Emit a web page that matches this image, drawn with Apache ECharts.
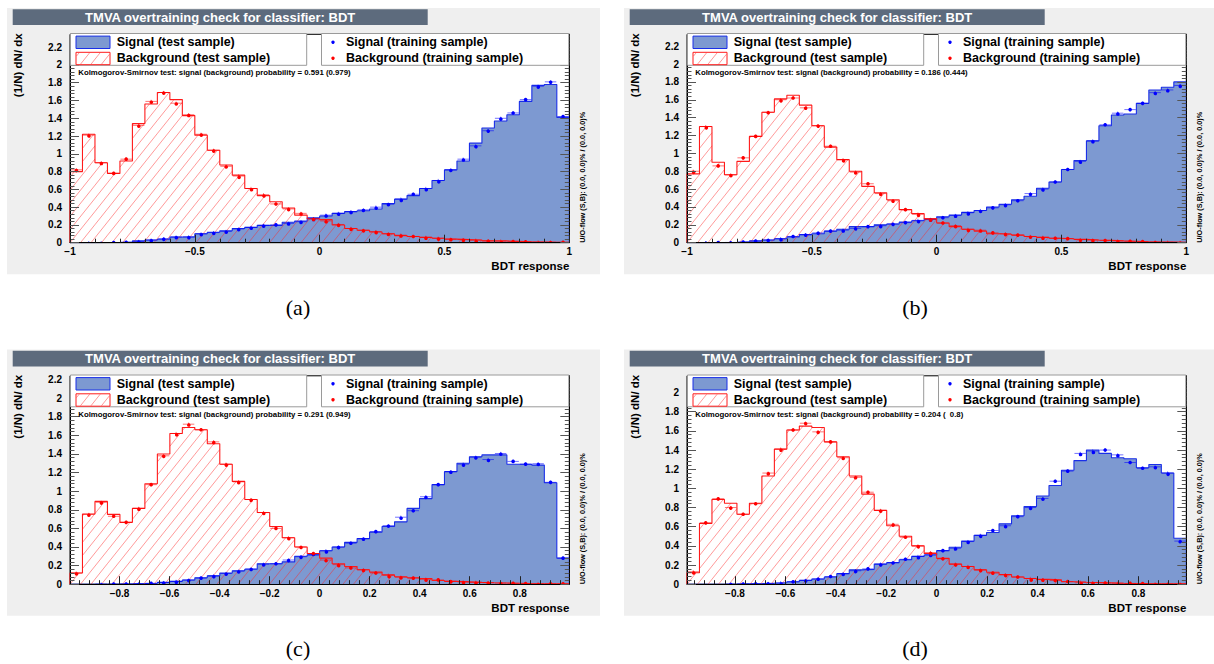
<!DOCTYPE html>
<html>
<head>
<meta charset="utf-8">
<script src="https://cdn.jsdelivr.net/npm/echarts@6/dist/echarts.min.js"></script>
<style>
html, body { margin: 0; padding: 0; background: #ffffff; }
#chart { width: 1214px; height: 664px; }
</style>
</head>
<body>
<div id="chart"></div>
<script>
// ---- BDT response, 40 bins per panel, normalised as (1/N) dN/dx ----
const sigTestA  = [0, 0.001, 0.002, 0.003, 0.006, 0.02, 0.03, 0.038, 0.064, 0.066, 0.10, 0.117, 0.135, 0.16, 0.173, 0.195, 0.195, 0.23, 0.244, 0.28, 0.30, 0.33, 0.35, 0.36, 0.38, 0.44, 0.49, 0.53, 0.61, 0.70, 0.82, 0.92, 1.12, 1.29, 1.37, 1.44, 1.59, 1.77, 1.78, 1.41];
const sigTrainA = [0, 0.001, 0.001, 0.002, 0.005, 0.015, 0.03, 0.045, 0.064, 0.066, 0.10, 0.114, 0.127, 0.154, 0.172, 0.195, 0.20, 0.217, 0.236, 0.27, 0.31, 0.33, 0.35, 0.37, 0.40, 0.435, 0.49, 0.545, 0.61, 0.70, 0.82, 0.94, 1.09, 1.26, 1.40, 1.46, 1.61, 1.76, 1.81, 1.42];
const bkgTestA  = [0.80, 1.22, 0.90, 0.78, 0.92, 1.34, 1.56, 1.69, 1.61, 1.43, 1.21, 1.04, 0.875, 0.76, 0.61, 0.53, 0.46, 0.39, 0.31, 0.27, 0.26, 0.20, 0.16, 0.14, 0.12, 0.10, 0.08, 0.07, 0.06, 0.05, 0.04, 0.035, 0.03, 0.02, 0.02, 0.015, 0.01, 0.008, 0.005, 0.004];
const bkgTrainA = [0.82, 1.21, 0.90, 0.78, 0.94, 1.32, 1.59, 1.69, 1.57, 1.44, 1.22, 1.04, 0.86, 0.75, 0.61, 0.54, 0.436, 0.38, 0.33, 0.27, 0.245, 0.205, 0.16, 0.14, 0.125, 0.10, 0.085, 0.07, 0.06, 0.05, 0.04, 0.035, 0.028, 0.022, 0.018, 0.014, 0.01, 0.008, 0.006, 0.004];

const sigTestB  = [0, 0, 0.001, 0.003, 0.01, 0.02, 0.03, 0.045, 0.065, 0.09, 0.10, 0.13, 0.15, 0.18, 0.18, 0.20, 0.21, 0.23, 0.245, 0.27, 0.29, 0.31, 0.34, 0.36, 0.40, 0.43, 0.48, 0.52, 0.61, 0.68, 0.82, 0.92, 1.14, 1.31, 1.43, 1.44, 1.56, 1.71, 1.74, 1.80];
const sigTrainB = [0, 0.001, 0.001, 0.003, 0.008, 0.018, 0.03, 0.045, 0.07, 0.09, 0.11, 0.13, 0.14, 0.16, 0.18, 0.19, 0.21, 0.225, 0.25, 0.26, 0.28, 0.305, 0.335, 0.36, 0.39, 0.425, 0.47, 0.55, 0.60, 0.68, 0.82, 0.91, 1.14, 1.32, 1.45, 1.49, 1.56, 1.68, 1.71, 1.76];
const bkgTestB  = [0.77, 1.30, 0.90, 0.76, 0.91, 1.19, 1.46, 1.61, 1.65, 1.54, 1.31, 1.07, 0.93, 0.80, 0.63, 0.56, 0.48, 0.37, 0.325, 0.27, 0.22, 0.18, 0.15, 0.13, 0.10, 0.095, 0.085, 0.07, 0.06, 0.05, 0.045, 0.037, 0.03, 0.026, 0.02, 0.016, 0.01, 0.008, 0.006, 0.004];
const bkgTrainB = [0.80, 1.30, 0.86, 0.76, 0.95, 1.19, 1.46, 1.60, 1.62, 1.51, 1.31, 1.08, 0.93, 0.79, 0.66, 0.55, 0.47, 0.37, 0.32, 0.26, 0.22, 0.19, 0.15, 0.14, 0.11, 0.10, 0.085, 0.07, 0.06, 0.05, 0.045, 0.035, 0.03, 0.025, 0.02, 0.015, 0.012, 0.009, 0.006, 0.004];

const sigTestC  = [0, 0, 0, 0.001, 0.003, 0.006, 0.01, 0.02, 0.03, 0.045, 0.07, 0.09, 0.12, 0.145, 0.16, 0.22, 0.22, 0.24, 0.30, 0.315, 0.36, 0.40, 0.45, 0.49, 0.56, 0.62, 0.67, 0.815, 0.92, 1.07, 1.21, 1.30, 1.37, 1.39, 1.39, 1.29, 1.29, 1.28, 1.09, 0.28];
const sigTrainC = [0, 0, 0.001, 0.001, 0.002, 0.005, 0.01, 0.018, 0.03, 0.045, 0.065, 0.09, 0.115, 0.14, 0.165, 0.215, 0.22, 0.26, 0.295, 0.32, 0.36, 0.40, 0.44, 0.49, 0.565, 0.63, 0.72, 0.79, 0.94, 1.07, 1.21, 1.29, 1.365, 1.34, 1.405, 1.32, 1.29, 1.295, 1.095, 0.28];
const bkgTestC  = [0.12, 0.755, 0.89, 0.75, 0.665, 0.815, 1.08, 1.40, 1.62, 1.685, 1.66, 1.51, 1.29, 1.105, 0.91, 0.77, 0.62, 0.50, 0.40, 0.33, 0.28, 0.22, 0.19, 0.155, 0.13, 0.10, 0.08, 0.07, 0.06, 0.04, 0.03, 0.025, 0.02, 0.016, 0.013, 0.01, 0.007, 0.005, 0.004, 0.003];
const bkgTrainC = [0.12, 0.75, 0.88, 0.73, 0.665, 0.815, 1.07, 1.38, 1.62, 1.72, 1.66, 1.53, 1.29, 1.10, 0.91, 0.77, 0.60, 0.50, 0.40, 0.33, 0.26, 0.21, 0.175, 0.155, 0.12, 0.097, 0.075, 0.065, 0.054, 0.046, 0.032, 0.025, 0.02, 0.016, 0.012, 0.009, 0.007, 0.005, 0.004, 0.003];

const sigTestD  = [0, 0, 0, 0.001, 0.003, 0.005, 0.01, 0.015, 0.025, 0.04, 0.055, 0.075, 0.11, 0.15, 0.155, 0.21, 0.225, 0.255, 0.29, 0.305, 0.35, 0.385, 0.45, 0.51, 0.54, 0.63, 0.715, 0.81, 0.92, 1.03, 1.19, 1.29, 1.40, 1.365, 1.32, 1.31, 1.215, 1.25, 1.16, 0.48];
const sigTrainD = [0, 0, 0, 0.001, 0.002, 0.004, 0.008, 0.014, 0.025, 0.04, 0.055, 0.08, 0.11, 0.14, 0.16, 0.21, 0.225, 0.26, 0.29, 0.31, 0.35, 0.375, 0.445, 0.51, 0.56, 0.61, 0.705, 0.80, 0.895, 1.075, 1.18, 1.365, 1.39, 1.40, 1.35, 1.27, 1.21, 1.225, 1.16, 0.45];
const bkgTestD  = [0.12, 0.635, 0.885, 0.845, 0.73, 0.845, 1.13, 1.41, 1.61, 1.65, 1.635, 1.485, 1.33, 1.13, 0.94, 0.77, 0.61, 0.50, 0.40, 0.32, 0.27, 0.21, 0.185, 0.15, 0.125, 0.10, 0.075, 0.06, 0.05, 0.045, 0.025, 0.02, 0.017, 0.014, 0.01, 0.008, 0.006, 0.005, 0.004, 0.003];
const bkgTrainD = [0.13, 0.64, 0.89, 0.80, 0.73, 0.84, 1.16, 1.41, 1.61, 1.68, 1.59, 1.485, 1.32, 1.115, 0.96, 0.77, 0.625, 0.49, 0.40, 0.33, 0.265, 0.21, 0.185, 0.15, 0.115, 0.10, 0.075, 0.06, 0.048, 0.038, 0.028, 0.022, 0.017, 0.013, 0.01, 0.008, 0.006, 0.004, 0.003, 0.003];

// histogram ranges and axis extents
const xRangeA = [-1, 1];
const xRangeB = [-1, 1];
const xRangeC = [-0.998, 0.998];
const xRangeD = [-0.99, 0.99];
const yMaxes = [2.345, 2.333, 2.24, 2.175];

// tick labels
const xTicksFull = [-1, -0.5, 0, 0.5, 1];
const xTicksFine = [-0.8, -0.6, -0.4, -0.2, 0, 0.2, 0.4, 0.6, 0.8];
const yTicks = [0, 0.2, 0.4, 0.6, 0.8, 1, 1.2, 1.4, 1.6, 1.8, 2, 2.2];

// Kolmogorov-Smirnov probabilities: signal, background
const ksSignal = [0.591, 0.186, 0.291, 0.204];
const ksBackground = [0.979, 0.444, 0.949, 0.8];
const overflowText = 'U/O-flow (S,B): (0.0, 0.0)% / (0.0, 0.0)%';
const captions = ['(a)', '(b)', '(c)', '(d)'];
const titleText = 'TMVA overtraining check for classifier: BDT';

// ---- styling / layout ----
const FONT = '"Liberation Sans", Arial, Helvetica, sans-serif';
const SERIF = '"Liberation Serif", "DejaVu Serif", serif';
const SIG_FILL = '#7d99d1', SIG_LINE = '#1a2fe8', SIG_MARK = '#0000ff';
const BKG_LINE = '#ff1a1a';
const HATCH_COLOR = 'rgba(255,40,40,0.6)';
const HATCH_SP = 10.5;   // horizontal spacing of hatch lines, px
const HATCH_R = 0.8;     // horizontal run per px of rise
const OFFSETS = [[0, 0], [617, 0], [0, 341.5], [617, 341.5]];
const FR = { l: 70, t: 34.3, w: 499.3, h: 208.4 };

const panels = [
  { sigTest: sigTestA, sigTrain: sigTrainA, bkgTest: bkgTestA, bkgTrain: bkgTrainA, range: xRangeA, xticks: xTicksFull, xminor: 0.1 },
  { sigTest: sigTestB, sigTrain: sigTrainB, bkgTest: bkgTestB, bkgTrain: bkgTrainB, range: xRangeB, xticks: xTicksFull, xminor: 0.1 },
  { sigTest: sigTestC, sigTrain: sigTrainC, bkgTest: bkgTestC, bkgTrain: bkgTrainC, range: xRangeC, xticks: xTicksFine, xminor: 0.04 },
  { sigTest: sigTestD, sigTrain: sigTrainD, bkgTest: bkgTestD, bkgTrain: bkgTrainD, range: xRangeD, xticks: xTicksFine, xminor: 0.04 }
];

function fmtTick(v) {
  return String(+(+v).toFixed(4)).replace('-', '\u2212');
}
function fmtProb(v) {
  const s = String(v);
  return '\u00a0'.repeat(Math.max(0, 5 - s.length)) + s;
}
function minorValues(min, max, step, majors) {
  const out = [];
  const k0 = Math.ceil(min / step - 1e-9), k1 = Math.floor(max / step + 1e-9);
  for (let k = k0; k <= k1; k++) {
    const v = +(k * step).toFixed(6);
    if (!majors.some(m => Math.abs(m - v) < 1e-6)) out.push(v);
  }
  return out;
}
// outline points of a histogram for a step:'end' line
function stepPoints(vals, range) {
  const n = vals.length, w = (range[1] - range[0]) / n;
  const pts = [[range[0], 0]];
  vals.forEach((v, i) => pts.push([range[0] + i * w, v]));
  pts.push([range[1], vals[n - 1]]);
  pts.push([range[1], 0]);
  return pts;
}
// one row per bin: [low edge, high edge, content]
function binRows(vals, range) {
  const n = vals.length, w = (range[1] - range[0]) / n;
  return vals.map((v, i) => [range[0] + i * w, range[0] + (i + 1) * w, v]);
}
// diagonal hatch segments inside a pixel rectangle, on a lattice anchored at (ox, oy)
function hatchSegments(xl, xr, yt, yb, ox, oy) {
  const segs = [];
  if (yb - yt < 0.2 || xr - xl < 0.2) return segs;
  const H0 = oy - yb, H1 = oy - yt;
  const kmin = Math.floor((xl - ox - H1 * HATCH_R) / HATCH_SP) - 1;
  const kmax = Math.ceil((xr - ox - H0 * HATCH_R) / HATCH_SP) + 1;
  for (let k = kmin; k <= kmax; k++) {
    const c = ox + k * HATCH_SP;
    const hA = Math.max(H0, (xl - c) / HATCH_R);
    const hB = Math.min(H1, (xr - c) / HATCH_R);
    if (hB - hA > 0.05) segs.push([c + hA * HATCH_R, oy - hA, c + hB * HATCH_R, oy - hB]);
  }
  return segs;
}
function hatchPath(xl, xr, yt, yb, ox, oy) {
  return hatchSegments(xl, xr, yt, yb, ox, oy).map(s =>
    'M' + s[0].toFixed(2) + ',' + s[1].toFixed(2) + 'L' + s[2].toFixed(2) + ',' + s[3].toFixed(2)).join('');
}

function textEl(x, y, s, opts) {
  const o = opts || {};
  return {
    type: 'text', x: x, y: y, z: o.z == null ? 30 : o.z, rotation: o.rotation || 0, silent: true,
    style: {
      text: s, fill: o.color || '#000000',
      fontFamily: o.family || FONT, fontSize: o.size || 12, fontWeight: o.weight || 'bold',
      textAlign: o.align || 'left', textVerticalAlign: o.valign || 'middle'
    }
  };
}

function valueAxis(extra) {
  return Object.assign({ type: 'value', z: 10, splitLine: { show: false } }, extra);
}

const grids = [], xAxes = [], yAxes = [], series = [], graphics = [];
const TICK_X = '#222222', TICK_Y = '#555555';

panels.forEach((P, p) => {
  const dx = OFFSETS[p][0], dy = OFFSETS[p][1];
  const L = FR.l + dx, T = FR.t + dy, R = L + FR.w, B = T + FR.h;
  const ymax = yMaxes[p];
  const xmin = P.range[0], xmax = P.range[1];

  grids.push({ left: L, top: T, width: FR.w, height: FR.h, containLabel: false,
    show: true, backgroundColor: '#ffffff', borderColor: '#000000', borderWidth: 1 });

  const xi = xAxes.length, yi = yAxes.length;
  const xMinor = minorValues(xmin, xmax, P.xminor, P.xticks);
  const yLab = yTicks.filter(v => v <= ymax + 1e-9);
  const yMinor = minorValues(0, ymax, 0.04, yLab);
  const noLine = { show: false, onZero: false };

  xAxes.push(valueAxis({
    gridIndex: p, min: xmin, max: xmax, position: 'bottom',
    axisLine: { show: true, onZero: false, lineStyle: { color: '#000000', width: 1 } },
    axisTick: { show: true, inside: true, length: 8, customValues: P.xticks, lineStyle: { color: TICK_X, width: 1 } },
    axisLabel: { show: true, customValues: P.xticks, formatter: fmtTick, margin: 4,
      fontSize: 10, fontWeight: 'bold', fontFamily: FONT, color: '#000000' }
  }));
  xAxes.push(valueAxis({
    gridIndex: p, min: xmin, max: xmax, position: 'bottom', axisLine: noLine,
    axisTick: { show: true, inside: true, length: 4, customValues: xMinor, lineStyle: { color: TICK_X, width: 1 } },
    axisLabel: { show: false }
  }));

  yAxes.push(valueAxis({
    gridIndex: p, min: 0, max: ymax, position: 'left',
    axisLine: { show: true, onZero: false, lineStyle: { color: '#000000', width: 1 } },
    axisTick: { show: true, inside: true, length: 9, customValues: yLab, lineStyle: { color: TICK_Y, width: 1 } },
    axisLabel: { show: true, customValues: yLab, formatter: fmtTick, margin: 8,
      fontSize: 10, fontWeight: 'bold', fontFamily: FONT, color: '#000000' }
  }));
  yAxes.push(valueAxis({
    gridIndex: p, min: 0, max: ymax, position: 'left', axisLine: noLine,
    axisTick: { show: true, inside: true, length: 4.5, customValues: yMinor, lineStyle: { color: TICK_Y, width: 1 } },
    axisLabel: { show: false }
  }));
  yAxes.push(valueAxis({
    gridIndex: p, min: 0, max: ymax, position: 'right',
    axisLine: { show: true, onZero: false, lineStyle: { color: '#000000', width: 1 } },
    axisTick: { show: true, inside: true, length: 9, customValues: yLab, lineStyle: { color: TICK_Y, width: 1 } },
    axisLabel: { show: false }
  }));
  yAxes.push(valueAxis({
    gridIndex: p, min: 0, max: ymax, position: 'right', axisLine: noLine,
    axisTick: { show: true, inside: true, length: 4.5, customValues: yMinor, lineStyle: { color: TICK_Y, width: 1 } },
    axisLabel: { show: false }
  }));

  // signal, test sample: filled histogram
  series.push({
    type: 'line', xAxisIndex: xi, yAxisIndex: yi, data: stepPoints(P.sigTest, P.range),
    step: 'end', symbol: 'none', showSymbol: false, silent: true, z: 2,
    lineStyle: { color: SIG_LINE, width: 1.1 },
    areaStyle: { color: SIG_FILL, opacity: 1 }
  });
  // background, test sample: hatched histogram
  series.push({
    type: 'custom', xAxisIndex: xi, yAxisIndex: yi, data: binRows(P.bkgTest, P.range),
    encode: { x: [0, 1], y: 2 }, silent: true, z: 3, clip: true,
    renderItem: function (params, api) {
      const o = api.coord([xmin, 0]);
      const a = api.coord([api.value(0), 0]);
      const b = api.coord([api.value(1), api.value(2)]);
      const d = hatchPath(a[0], b[0], b[1], a[1], o[0], o[1]);
      if (!d) return null;
      return { type: 'path', shape: { pathData: d },
        style: { stroke: HATCH_COLOR, fill: 'none', lineWidth: 0.8 } };
    }
  });
  series.push({
    type: 'line', xAxisIndex: xi, yAxisIndex: yi, data: stepPoints(P.bkgTest, P.range),
    step: 'end', symbol: 'none', showSymbol: false, silent: true, z: 4,
    lineStyle: { color: BKG_LINE, width: 1.1 }
  });
  // training samples: points with bin-width error bars
  [[P.sigTrain, SIG_MARK], [P.bkgTrain, '#ff0000']].forEach(function (pair) {
    const col = pair[1];
    series.push({
      type: 'custom', xAxisIndex: xi, yAxisIndex: yi, data: binRows(pair[0], P.range),
      encode: { x: [0, 1], y: 2 }, silent: true, z: 5, clip: true,
      renderItem: function (params, api) {
        const v = api.value(2);
        if (!(v > 0)) return null;
        const a = api.coord([api.value(0), v]);
        const b = api.coord([api.value(1), v]);
        const cx = (a[0] + b[0]) / 2;
        return { type: 'group', children: [
          { type: 'line', shape: { x1: a[0] + 0.5, y1: a[1], x2: b[0] - 0.5, y2: b[1] },
            style: { stroke: col, lineWidth: 1, opacity: 0.55 } },
          { type: 'line', shape: { x1: cx, y1: a[1] - 1.6, x2: cx, y2: a[1] + 1.6 },
            style: { stroke: col, lineWidth: 1, opacity: 0.55 } },
          { type: 'circle', shape: { cx: cx, cy: a[1], r: 1.8 }, style: { fill: col } }
        ] };
      }
    });
  });

  // ---- panel decorations ----
  const bgX = 7 + dx, bgW = Math.min(593, 1214 - bgX);
  graphics.push({ type: 'rect', z: -20, silent: true,
    shape: { x: bgX, y: 8 + dy, width: bgW, height: 266.3 }, style: { fill: '#efefef' } });
  graphics.push({ type: 'rect', z: 25, silent: true,
    shape: { x: 12.7 + dx, y: 9.3 + dy, width: 415, height: 15.8 }, style: { fill: '#5d6b7d' } });
  graphics.push(textEl(220.2 + dx, 17.4 + dy, titleText, { size: 13, color: '#ffffff', align: 'center' }));

  // legend boxes
  graphics.push({ type: 'rect', z: 20, silent: true,
    shape: { x: L + 0.5, y: T - 0.8, width: 236.2, height: 31.8 },
    style: { fill: '#ffffff', stroke: '#9a9a9a', lineWidth: 1 } });
  graphics.push({ type: 'rect', z: 20, silent: true,
    shape: { x: L + 251.5, y: T - 0.8, width: 247.3, height: 31.8 },
    style: { fill: '#ffffff', stroke: '#9a9a9a', lineWidth: 1 } });
  graphics.push({ type: 'rect', z: 22, silent: true,
    shape: { x: L + 6, y: T + 1.8, width: 34, height: 12.4 },
    style: { fill: SIG_FILL, stroke: SIG_LINE, lineWidth: 1 } });
  graphics.push({ type: 'rect', z: 22, silent: true,
    shape: { x: L + 6, y: T + 18, width: 34, height: 12.4 },
    style: { fill: '#ffffff', stroke: BKG_LINE, lineWidth: 1 } });
  hatchSegments(L + 6.5, L + 39.5, T + 18.5, T + 29.9, L, T + 29.9).forEach(s => {
    graphics.push({ type: 'line', z: 23, silent: true,
      shape: { x1: s[0], y1: s[1], x2: s[2], y2: s[3] },
      style: { stroke: HATCH_COLOR, lineWidth: 0.8 } });
  });
  graphics.push(textEl(L + 46.7, T + 8.0, 'Signal (test sample)', { size: 12.5 }));
  graphics.push(textEl(L + 46.7, T + 24.0, 'Background (test sample)', { size: 12.5 }));
  graphics.push({ type: 'circle', z: 23, silent: true, shape: { cx: L + 263, cy: T + 8.0, r: 1.7 }, style: { fill: SIG_MARK } });
  graphics.push({ type: 'circle', z: 23, silent: true, shape: { cx: L + 263, cy: T + 24.0, r: 1.7 }, style: { fill: '#ff0000' } });
  graphics.push(textEl(L + 276, T + 8.0, 'Signal (training sample)', { size: 12.5 }));
  graphics.push(textEl(L + 276, T + 24.0, 'Background (training sample)', { size: 12.5 }));

  graphics.push(textEl(L + 8.3, T + 38.6,
    'Kolmogorov-Smirnov test: signal (background) probability = ' +
    fmtProb(ksSignal[p]) + ' (' + fmtProb(ksBackground[p]) + ')', { size: 7.8 }));

  graphics.push(textEl(R + 13.4, B, overflowText, { size: 7.3, rotation: Math.PI / 2 }));
  graphics.push(textEl(18 + dx, 33.3 + dy, '(1/N) dN/ dx', { size: 11.5, rotation: Math.PI / 2, align: 'right' }));
  graphics.push(textEl(R, B + 23.5, 'BDT response', { size: 11.5, align: 'right' }));
  graphics.push(textEl(298 + dx, 307 + dy, captions[p],
    { size: 22, family: SERIF, weight: 'normal', align: 'center' }));
});

const chart = echarts.init(document.getElementById('chart'), null, { renderer: 'svg', width: 1214, height: 664 });
chart.setOption({
  animation: false,
  backgroundColor: '#ffffff',
  grid: grids,
  xAxis: xAxes,
  yAxis: yAxes,
  series: series,
  graphic: { elements: graphics }
});
</script>
</body>
</html>
